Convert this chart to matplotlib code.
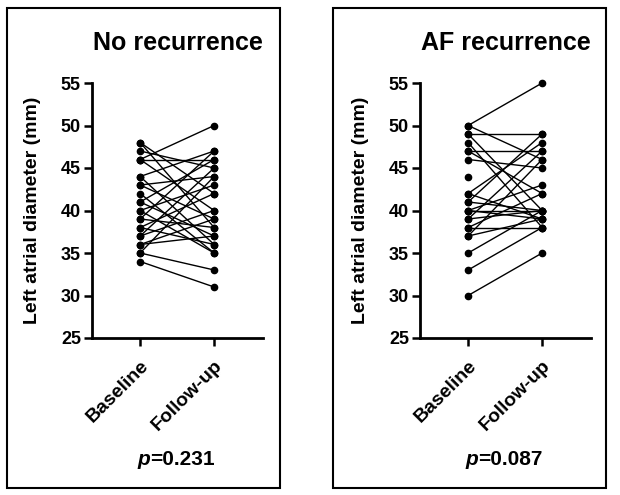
import numpy as np
import matplotlib.pyplot as plt
from matplotlib.patches import Rectangle

plt.rcParams['font.family'] = ['Liberation Sans', 'DejaVu Sans']
plt.rcParams['font.weight'] = 'bold'

# Paired measurements (mm): baseline -> follow-up
no_rec_base = [48, 48, 47, 46, 46, 46, 44, 44, 43, 43, 42, 41, 41, 40, 40,
               39, 39, 38, 38, 37, 37, 36, 36, 35, 35, 34]
no_rec_follow = [42, 38, 45, 50, 46, 40, 36, 47, 39, 44, 35, 46, 37, 43, 35,
                 47, 38, 42, 36, 45, 40, 39, 37, 44, 33, 31]

af_base = [50, 50, 49, 49, 48, 47, 47, 46, 44, 42, 42, 41, 41, 40, 40, 40,
           39, 39, 38, 38, 37, 37, 35, 33, 30]
af_follow = [55, 46, 49, 40, 38, 47, 42, 45, np.nan, 39, 48, 40, 49, 40, 43, 39,
             47, 40, 42, 38, 39, 46, 40, 38, 35]

groups = ["Baseline", "Follow-up"]
titles = ["No recurrence", "AF recurrence"]
p_values = ["0.231", "0.087"]
y_ticks = [25, 30, 35, 40, 45, 50, 55]

fig = plt.figure(figsize=(6.2, 4.95), dpi=100)

panels = [(no_rec_base, no_rec_follow), (af_base, af_follow)]
ax_left = [92 / 620, 420 / 620]
box_left = [7 / 620, 333 / 620]

for i, (base, follow) in enumerate(panels):
    # frame around each panel
    fig.patches.append(Rectangle((box_left[i], 7 / 495), 273 / 620, 480 / 495,
                                 transform=fig.transFigure, fill=False,
                                 edgecolor='black', linewidth=1.5))
    ax = fig.add_axes([ax_left[i], 157 / 495, 171 / 620, 255 / 495])
    for b, f in zip(base, follow):
        if np.isnan(f):
            ax.plot([0], [b], 'o', color='black', ms=4.5, clip_on=False)
        else:
            ax.plot([0, 1], [b, f], '-o', color='black', lw=1.0, ms=4.5, clip_on=False)
    ax.set_xlim(-0.65, 1.66)
    ax.set_ylim(25, 55)
    ax.set_yticks(y_ticks)
    ax.set_xticks([0, 1])
    ax.set_xticklabels(groups, rotation=45, ha='right', rotation_mode='anchor',
                       fontsize=14, fontweight='bold')
    ax.tick_params(axis='y', labelsize=13, width=1.8, length=6, pad=2)
    ax.tick_params(axis='x', width=1.8, length=6, pad=8)
    for lab in ax.get_yticklabels():
        lab.set_fontweight('bold')
    ax.spines['top'].set_visible(False)
    ax.spines['right'].set_visible(False)
    ax.spines['left'].set_linewidth(2.0)
    ax.spines['bottom'].set_linewidth(2.0)
    ax.set_ylabel("Left atrial diameter (mm)", fontsize=14, fontweight='bold',
                  labelpad=14)
    ax.text(1.0, 1.157, titles[i], transform=ax.transAxes, ha='right', va='center',
            fontsize=18, fontweight='bold')
    # p-value with italic p
    ax.text(0.34, -0.475, "p", transform=ax.transAxes, ha='right', va='center',
            fontsize=15, fontweight='bold', style='italic')
    ax.text(0.34, -0.475, "=" + p_values[i], transform=ax.transAxes, ha='left',
            va='center', fontsize=15, fontweight='bold')

fig.savefig("out.png", dpi=100)
